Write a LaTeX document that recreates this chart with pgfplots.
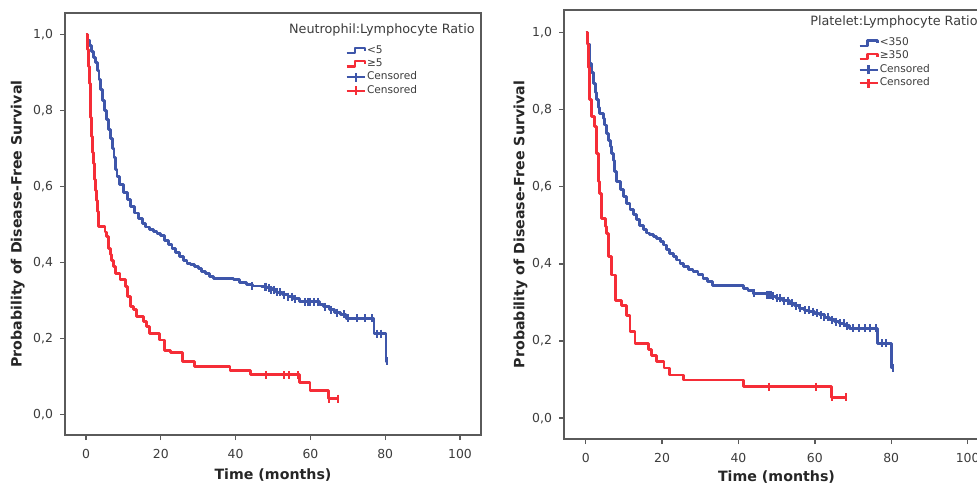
\documentclass[border=0pt]{standalone}
\usepackage{pgfplots}
\pgfplotsset{compat=1.18}
\usepackage{fontspec}
\setmainfont{DejaVu Sans}
\definecolor{kmblue}{RGB}{62,86,170}
\definecolor{kmred}{RGB}{245,45,55}
\definecolor{axgray}{RGB}{90,90,90}
\definecolor{txgray}{RGB}{60,60,60}
\pgfplotsset{
  kmaxis/.style={
    scale only axis,
    xmin=-5.6, xmax=105.6, ymin=-0.054, ymax=1.056,
    xtick={0,20,40,60,80,100},
    ytick={0,0.2,0.4,0.6,0.8,1.0},
    tick pos=left, tick align=outside, major tick length=2.5pt,
    axis line style={axgray, line width=0.8pt},
    every tick/.style={axgray, line width=0.7pt},
    /pgf/number format/assume math mode=true,
    ticklabel style={font=\fontsize{6.2}{7}\selectfont, text=txgray},
    xticklabel style={yshift=-1pt},
    yticklabel style={/pgf/number format/fixed, /pgf/number format/fixed zerofill,
      /pgf/number format/precision=1, /pgf/number format/use comma},
    label style={font=\fontsize{7.1}{8}\selectfont\bfseries, text=black!85},
    legend cell align=left,
    legend style={draw=none, fill=none, font=\fontsize{5.3}{6}\selectfont,
      text=txgray, row sep=0pt, inner sep=0pt, nodes={inner sep=0.6pt}},
  },
  kmline/.style={const plot, line width=1.45pt, line join=round},
  cens/.style={only marks, mark=|, mark size=2pt, mark options={line width=1pt}},
  stepblue/.style={legend image code/.code={\draw[kmblue, line width=1.1pt] (0pt,-1.3pt) -- (4pt,-1.3pt) -- (4pt,1.4pt) -- (9pt,1.4pt) -- (9pt,0pt);}},
  stepred/.style={legend image code/.code={\draw[kmred, line width=1.1pt] (0pt,-1.3pt) -- (4pt,-1.3pt) -- (4pt,1.4pt) -- (9pt,1.4pt) -- (9pt,0pt);}},
  censblue/.style={legend image code/.code={\draw[kmblue, line width=1.1pt] (0pt,0pt) -- (9pt,0pt); \draw[kmblue, line width=1.1pt] (4.5pt,-2.2pt) -- (4.5pt,2.2pt);}},
  censred/.style={legend image code/.code={\draw[kmred, line width=1.1pt] (0pt,0pt) -- (9pt,0pt); \draw[kmred, line width=1.1pt] (4.5pt,-2.2pt) -- (4.5pt,2.2pt);}},
}
\begin{document}
\begin{tikzpicture}
\useasboundingbox (0,0) rectangle (488.5pt,242pt);
\clip (0,0) rectangle (488.5pt,242pt);
% ---------------- Left panel ----------------
\begin{axis}[kmaxis, at={(32.5pt,24.5pt)}, anchor=south west, width=208pt, height=211pt,
  xlabel={Time (months)}, ylabel={Probability of Disease-Free Survival},
  xlabel style={at={(axis description cs:0.5,0)}, anchor=north, inner sep=0pt, yshift=-16.5pt},
  ylabel style={at={(axis description cs:-0.096,0.5)}, anchor=south, inner sep=0pt},
  legend style={at={(axis cs:69.3,0.975)}, anchor=north west}]
\addplot[kmblue, kmline, stepblue] coordinates {
(0,1.0) (0.5,0.985) (1,0.97) (1.5,0.955) (2,0.94) (2.5,0.925) (3,0.905) (3.5,0.88)
(4,0.855) (4.5,0.825) (5,0.8) (5.5,0.775) (6,0.75) (6.5,0.725) (7,0.7) (7.5,0.675)
(8,0.645) (8.3,0.625) (9,0.605) (10,0.585) (11,0.565) (12,0.548) (13,0.53) (14,0.515)
(15,0.503) (16,0.493) (17,0.487) (18,0.482) (19,0.476) (20,0.47) (21,0.458) (22,0.447)
(23,0.436) (24,0.425) (25,0.415) (26,0.405) (27,0.398) (28,0.394) (29,0.39) (30,0.384)
(31,0.377) (32,0.37) (33,0.364) (34,0.358) (39.5,0.354) (41,0.348) (43,0.342) (44.5,0.338)
(47,0.336) (48.3,0.333) (49.5,0.328) (51,0.322) (52.5,0.315) (54,0.31) (55.5,0.304)
(57,0.296) (62.5,0.29) (63.5,0.283) (65,0.275) (66.5,0.268) (68,0.264) (69.5,0.253)
(77,0.213) (80.2,0.14) (80.8,0.14)};
\addlegendentry{<5}
\addplot[kmred, kmline, stepred] coordinates {
(0,1.0) (0.3,0.96) (0.6,0.915) (0.9,0.87) (1.1,0.836) (1.3,0.78) (1.5,0.73) (1.8,0.69)
(2,0.66) (2.2,0.635) (2.4,0.617) (2.6,0.59) (2.85,0.564) (3.0,0.535) (3.3,0.494)
(5.1,0.48) (5.5,0.468) (6,0.437) (6.5,0.42) (6.9,0.406) (7.4,0.39) (7.8,0.371)
(9.1,0.354) (10.5,0.336) (11,0.31) (12,0.283) (12.6,0.275) (13.5,0.257) (15.5,0.245)
(16.2,0.231) (17.1,0.213) (19.6,0.196) (21.1,0.169) (22.5,0.162) (25.8,0.139)
(29.1,0.127) (38.5,0.115) (43.9,0.104) (57.2,0.083) (59.9,0.064) (64.8,0.042) (67.5,0.042)};
\addlegendentry{≥5}
\addplot[kmblue, cens, censblue] coordinates {
(44.5,0.338) (47.8,0.336) (48.2,0.336) (48.8,0.333) (49.5,0.328) (50.2,0.328) (51,0.322)
(52,0.322) (53,0.315) (54,0.31) (55,0.31) (56,0.304) (58.5,0.296) (59.3,0.296) (60,0.296)
(61,0.296) (62,0.296) (64,0.283) (65.5,0.275) (67,0.268) (69,0.264) (70,0.253) (72.5,0.253)
(74.5,0.253) (76.5,0.253) (77.8,0.213) (79,0.213) (80.5,0.14)};
\addlegendentry{Censored}
\addplot[kmred, cens, censred] coordinates {
(48,0.104) (53,0.104) (54.3,0.104) (56.8,0.104) (65,0.042) (67.5,0.042)};
\addlegendentry{Censored}
\node[anchor=east, inner sep=0pt, font=\fontsize{6.4}{7}\selectfont, text=txgray] at (axis cs:104,1.011) {Neutrophil:Lymphocyte Ratio};
\end{axis}
% ---------------- Right panel ----------------
\begin{axis}[kmaxis, at={(282pt,22.5pt)}, anchor=south west, width=212.5pt, height=214.5pt,
  xmin=-5.68, xmax=105.6, ymin=-0.054, ymax=1.058,
  xlabel={Time (months)}, ylabel={Probability of Disease-Free Survival},
  xlabel style={at={(axis description cs:0.5,0)}, anchor=north, inner sep=0pt, yshift=-15.5pt},
  ylabel style={at={(axis description cs:-0.085,0.5)}, anchor=south, inner sep=0pt},
  legend style={at={(axis cs:71.3,0.99)}, anchor=north west}]
\addplot[kmblue, kmline, stepblue] coordinates {
(0,1.0) (0.5,0.97) (1.1,0.92) (1.5,0.895) (2,0.868) (2.5,0.845) (2.9,0.825) (3.3,0.805)
(3.7,0.79) (4.6,0.777) (5,0.76) (5.5,0.738) (6,0.72) (6.4,0.704) (6.8,0.687) (7.2,0.669)
(7.6,0.64) (8.1,0.613) (9,0.593) (9.8,0.574) (10.7,0.557) (11.6,0.54) (12.5,0.527)
(13.3,0.514) (14.2,0.5) (15.1,0.488) (16,0.48) (16.8,0.475) (17.7,0.47) (18.6,0.466)
(19.5,0.458) (20.3,0.449) (21.2,0.438) (22,0.427) (23,0.418) (23.8,0.41) (24.7,0.4)
(25.5,0.393) (26.8,0.386) (28.1,0.38) (29.4,0.372) (30.7,0.363) (32,0.354) (33.3,0.345)
(37.7,0.343) (41.2,0.337) (42.5,0.33) (43.8,0.324) (47.3,0.32) (48.6,0.316) (49.9,0.311)
(51.6,0.305) (53.4,0.298) (54.7,0.291) (56,0.285) (57.3,0.28) (58.6,0.276) (60,0.272)
(61.2,0.268) (62.5,0.262) (63.9,0.255) (65.2,0.25) (66.5,0.246) (67.8,0.24) (69.1,0.233)
(76.5,0.194) (80,0.13) (80.8,0.13)};
\addlegendentry{<350}
\addplot[kmred, kmline, stepred] coordinates {
(0,1.0) (0.4,0.97) (0.7,0.91) (1.1,0.825) (1.6,0.782) (2.4,0.756) (2.9,0.687) (3.3,0.613)
(3.7,0.583) (4.2,0.518) (5.1,0.497) (5.5,0.479) (5.9,0.418) (6.8,0.371) (7.7,0.358)
(7.9,0.306) (9.4,0.293) (10.7,0.267) (11.6,0.224) (12.9,0.194) (16.4,0.177) (17.2,0.162)
(18.6,0.147) (20.5,0.13) (22,0.112) (25.5,0.099) (41.4,0.082) (64.3,0.054) (68.2,0.054)};
\addlegendentry{≥350}
\addplot[kmblue, cens, censblue] coordinates {
(44,0.324) (47.5,0.32) (48,0.32) (48.5,0.32) (49,0.316) (50,0.311) (51,0.311) (52,0.305)
(53,0.305) (54,0.298) (55,0.291) (56,0.285) (57.5,0.28) (58.5,0.28) (59.5,0.276)
(60.5,0.272) (61.5,0.268) (62.5,0.262) (63.5,0.262) (64.5,0.255) (65.5,0.25) (66.5,0.246)
(67.5,0.246) (68.5,0.24) (70,0.233) (71.5,0.233) (73,0.233) (74.5,0.233) (76,0.233)
(77.5,0.194) (78.5,0.194) (80.5,0.13)};
\addlegendentry{Censored}
\addplot[kmred, cens, censred] coordinates {
(47.9,0.082) (60.2,0.082) (64.5,0.054) (68.2,0.054)};
\addlegendentry{Censored}
\node[anchor=west, inner sep=0pt, font=\fontsize{6.4}{7}\selectfont, text=txgray] at (axis cs:58.7,1.027) {Platelet:Lymphocyte Ratio};
\end{axis}
\end{tikzpicture}
\end{document}
